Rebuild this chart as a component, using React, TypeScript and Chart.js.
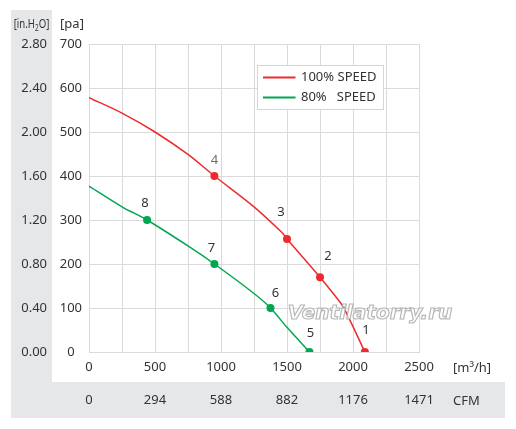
import { useEffect, useRef } from 'react';
import { Chart, registerables } from 'chart.js';

Chart.register(...registerables);

// ---- data ----
const RED_FLOW = [0, 250, 500, 750, 950, 1250, 1460, 1500, 1750, 1850, 1925, 2090];
const RED_PRESSURE = [578, 543, 500, 449, 400, 330, 272, 257, 170, 133, 103, 0];
const RED_POINT_LABELS = ['', '', '', '', '4', '', '', '3', '2', '', '', '1'];

const GREEN_FLOW = [0, 250, 440, 750, 950, 1250, 1375, 1500, 1670];
const GREEN_PRESSURE = [377, 330, 300, 241, 200, 133, 100, 56, 0];
const GREEN_POINT_LABELS = ['', '', '8', '', '7', '', '6', '', '5'];

const SERIES_NAMES = ['100% SPEED', '80%   SPEED'];

const FLOW_TICKS = ['0', '500', '1000', '1500', '2000', '2500'];
const CFM_TICKS = ['0', '294', '588', '882', '1176', '1471'];
const PA_TICKS = ['0', '100', '200', '300', '400', '500', '600', '700'];
const INH2O_TICKS = ['0.00', '0.40', '0.80', '1.20', '1.60', '2.00', '2.40', '2.80'];

const RED = '#ee2a2e';
const GREEN = '#00a651';
const TEXT = '#333333';
const GRID = '#dadada';
const PANEL = '#e6e7e8';
const FONT = "'Noto Sans', sans-serif";

const LABEL_OFFSETS: Record<string, [number, number]> = {
  '1': [1, -22],
  '2': [8, -21],
  '3': [-6, -27],
  '4': [0, -16],
  '5': [1, -19],
  '6': [5, -15],
  '7': [-3, -16],
  '8': [-2, -17],
};

const zeroPad = (scale: any) => {
  scale.paddingLeft = 0;
  scale.paddingRight = 0;
  scale.paddingTop = 0;
  scale.paddingBottom = 0;
};

const panelPlugin = {
  id: 'panels',
  beforeDraw(chart: any) {
    const { ctx } = chart;
    const yin = chart.scales.yin;
    const xcfm = chart.scales.xcfm;
    ctx.save();
    ctx.fillStyle = PANEL;
    ctx.fillRect(yin.left, 10, yin.width, xcfm.bottom - 10);
    ctx.fillRect(yin.left, xcfm.top, 505 - yin.left, xcfm.height);
    ctx.restore();
  },
  afterDraw(chart: any) {
    const { ctx } = chart;
    const ya = chart.scales.y;
    const yin = chart.scales.yin;
    const xa = chart.scales.x;
    const xcfm = chart.scales.xcfm;
    ctx.save();
    ctx.fillStyle = TEXT;
    ctx.textBaseline = 'middle';
    // [pa]
    ctx.font = `13px ${FONT}`;
    ctx.textAlign = 'center';
    ctx.fillText('[pa]', ya.left + 20, 24);
    // [in.H2O] condensed
    ctx.save();
    const cx = (yin.left + yin.right) / 2;
    ctx.translate(cx, 25);
    ctx.scale(0.8, 1);
    ctx.textAlign = 'left';
    const p1 = '[in.H';
    const p2 = 'O]';
    ctx.font = `12px ${FONT}`;
    const w1 = ctx.measureText(p1).width;
    const w3 = ctx.measureText(p2).width;
    ctx.font = `8px ${FONT}`;
    const w2 = ctx.measureText('2').width;
    const total = w1 + w2 + w3;
    let x = -total / 2;
    ctx.font = `12px ${FONT}`;
    ctx.fillText(p1, x, 0);
    x += w1;
    ctx.font = `8px ${FONT}`;
    ctx.fillText('2', x, 4);
    x += w2;
    ctx.font = `12px ${FONT}`;
    ctx.fillText(p2, x, 0);
    ctx.restore();
    // [m3/h] and CFM
    ctx.font = `13px ${FONT}`;
    ctx.textAlign = 'left';
    ctx.fillText('[m³/h]', 453, xa.top + 16);
    ctx.fillText('CFM', 453, xcfm.top + 19);

    // legend
    const area = chart.chartArea;
    const lx = area.left + 168.5;
    const ly = area.top + 21.5;
    ctx.fillStyle = '#ffffff';
    ctx.fillRect(lx, ly, 126, 44);
    ctx.strokeStyle = '#d6d6d6';
    ctx.lineWidth = 1;
    ctx.strokeRect(lx, ly, 126, 44);
    const colors = [RED, GREEN];
    SERIES_NAMES.forEach((name, i) => {
      const yy = ly + 12 + i * 20;
      ctx.strokeStyle = colors[i];
      ctx.lineWidth = 2;
      ctx.beginPath();
      ctx.moveTo(lx + 5.5, yy);
      ctx.lineTo(lx + 38, yy);
      ctx.stroke();
      ctx.fillStyle = TEXT;
      ctx.font = `13px ${FONT}`;
      ctx.textAlign = 'left';
      ctx.fillText(name, lx + 43.5, yy);
    });
    ctx.restore();
  },
  afterDatasetsDraw(chart: any) {
    const { ctx } = chart;
    ctx.save();
    // watermark
    ctx.font = "italic bold 20px 'DejaVu Sans', sans-serif";
    ctx.textAlign = 'center';
    ctx.textBaseline = 'middle';
    ctx.lineWidth = 1.2;
    ctx.strokeStyle = 'rgba(165,165,165,0.8)';
    ctx.fillStyle = 'rgba(255,255,255,0.8)';
    ctx.fillText('Ventilatorry.ru', 370, 314);
    ctx.strokeText('Ventilatorry.ru', 370, 314);
    // point labels
    ctx.font = `13px ${FONT}`;
    ctx.fillStyle = TEXT;
    const allLabels = [RED_POINT_LABELS, GREEN_POINT_LABELS];
    chart.data.datasets.forEach((_: any, di: number) => {
      const meta = chart.getDatasetMeta(di);
      meta.data.forEach((el: any, i: number) => {
        const lab = allLabels[di][i];
        if (!lab) return;
        const off = LABEL_OFFSETS[lab] || [0, -16];
        ctx.fillStyle = lab === '4' ? '#6e6e6e' : TEXT;
        ctx.fillText(lab, el.x + off[0], el.y + off[1]);
      });
    });
    ctx.restore();
  },
};

export default function App() {
  const ref = useRef<HTMLCanvasElement | null>(null);

  useEffect(() => {
    if (!ref.current) return;
    const redData = RED_FLOW.map((x, i) => ({ x, y: RED_PRESSURE[i] }));
    const greenData = GREEN_FLOW.map((x, i) => ({ x, y: GREEN_PRESSURE[i] }));
    const chart = new Chart(ref.current, {
      type: 'line',
      data: {
        datasets: [
          {
            label: SERIES_NAMES[0],
            data: redData,
            borderColor: RED,
            backgroundColor: RED,
            borderWidth: 1.5,
            tension: 0.3,
            pointRadius: (c: any) => (RED_POINT_LABELS[c.dataIndex] ? 4 : 0),
            pointBorderWidth: 0,
            pointBackgroundColor: RED,
          },
          {
            label: SERIES_NAMES[1],
            data: greenData,
            borderColor: GREEN,
            backgroundColor: GREEN,
            borderWidth: 1.5,
            tension: 0.3,
            pointRadius: (c: any) => (GREEN_POINT_LABELS[c.dataIndex] ? 4 : 0),
            pointBorderWidth: 0,
            pointBackgroundColor: GREEN,
          },
        ],
      },
      options: {
        animation: false,
        responsive: false,
        devicePixelRatio: 1,
        events: [],
        layout: { padding: { left: 11, right: 97, top: 44, bottom: 11 } },
        plugins: {
          legend: { display: false },
          tooltip: { enabled: false },
          title: { display: false },
        },
        scales: {
          x: {
            type: 'linear',
            position: 'bottom',
            weight: 0,
            min: 0,
            max: 2500,
            grid: { color: GRID, drawTicks: false, lineWidth: 1 },
            border: { color: GRID },
            ticks: {
              stepSize: 250,
              autoSkip: false,
              maxRotation: 0,
              padding: 7,
              color: TEXT,
              font: { family: FONT, size: 13 },
              callback: (v: any) => (Number(v) % 500 === 0 ? FLOW_TICKS[Number(v) / 500] : ''),
            },
            afterFit: (s: any) => {
              s.height = 30;
              zeroPad(s);
            },
          },
          xcfm: {
            type: 'linear',
            position: 'bottom',
            weight: 1,
            min: 0,
            max: 2500,
            grid: { display: false, drawTicks: false },
            border: { display: false },
            ticks: {
              stepSize: 250,
              autoSkip: false,
              maxRotation: 0,
              padding: 10,
              color: TEXT,
              font: { family: FONT, size: 13 },
              callback: (v: any) => (Number(v) % 500 === 0 ? CFM_TICKS[Number(v) / 500] : ''),
            },
            afterFit: (s: any) => {
              s.height = 36;
              zeroPad(s);
            },
          },
          y: {
            type: 'linear',
            position: 'left',
            weight: 0,
            min: 0,
            max: 700,
            grid: { color: GRID, drawTicks: false, lineWidth: 1 },
            border: { color: GRID },
            ticks: {
              stepSize: 100,
              padding: 7,
              crossAlign: 'center',
              color: TEXT,
              font: { family: FONT, size: 13 },
              callback: (v: any) => PA_TICKS[Math.round(Number(v) / 100)],
            },
            afterFit: (s: any) => {
              s.width = 37;
              zeroPad(s);
            },
          },
          yin: {
            type: 'linear',
            position: 'left',
            weight: 1,
            min: 0,
            max: 2.8,
            grid: { display: false, drawTicks: false },
            border: { display: false },
            ticks: {
              stepSize: 0.4,
              padding: 5,
              crossAlign: 'near',
              color: TEXT,
              font: { family: FONT, size: 13 },
              callback: (v: any) => INH2O_TICKS[Math.round(Number(v) / 0.4)],
            },
            afterFit: (s: any) => {
              s.width = 41;
              zeroPad(s);
            },
          },
        },
      } as any,
      plugins: [panelPlugin],
    });
    return () => chart.destroy();
  }, []);

  return (
    <div style={{ position: 'absolute', left: 0, top: 0, width: 516, height: 429 }}>
      <canvas ref={ref} width={516} height={429} style={{ width: 516, height: 429 }} />
    </div>
  );
}
